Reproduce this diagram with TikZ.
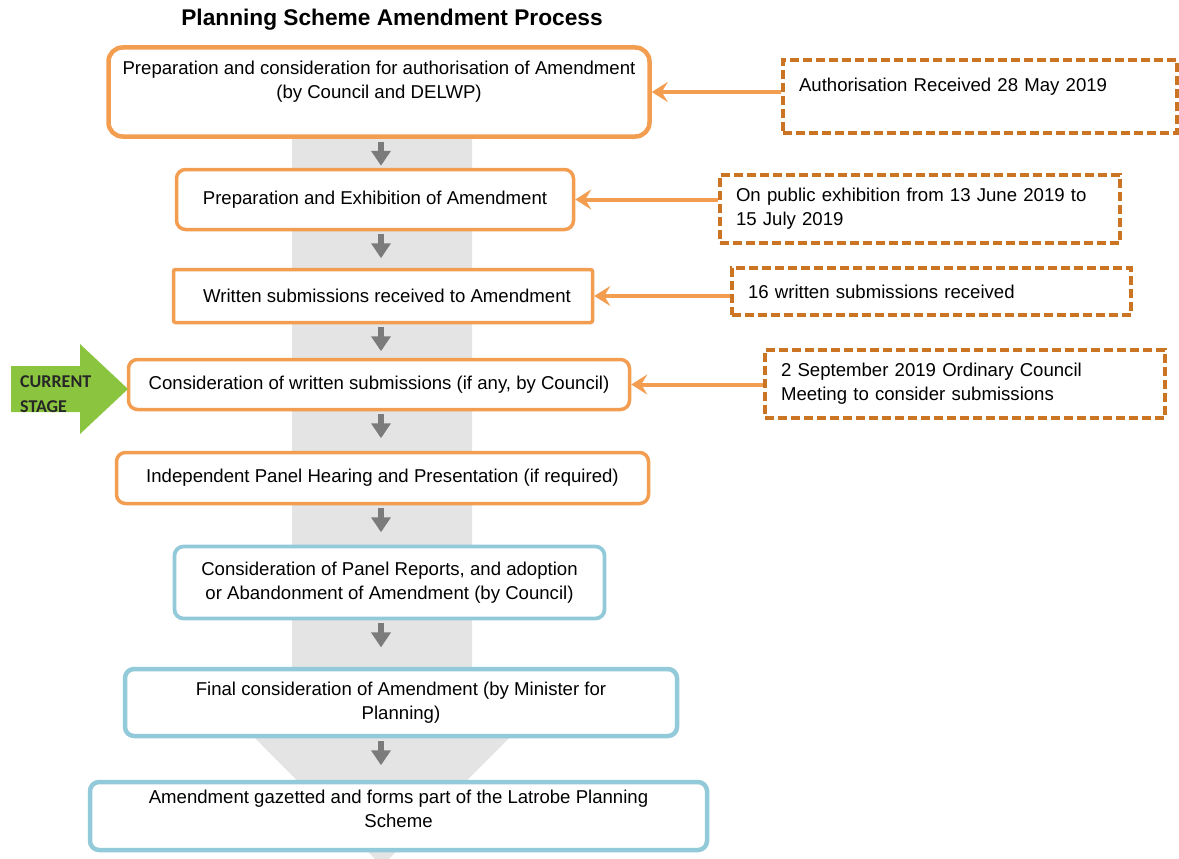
\documentclass[tikz,border=0pt]{standalone}
\usepackage{fontspec}
\setmainfont{Liberation Sans}
\newfontfamily\stagefont{Carlito}
\usetikzlibrary{arrows.meta}
\definecolor{stageorange}{HTML}{F29D50}
\definecolor{noteorange}{HTML}{CB7424}
\definecolor{stageblue}{HTML}{93CAD9}
\definecolor{spinegray}{HTML}{E4E4E4}
\definecolor{flowgray}{HTML}{7B7B7B}
\definecolor{nowgreen}{HTML}{8BC53F}
\tikzset{stage/.style = {shape = rectangle, draw = stageorange, fill = white, line width = 3.5pt, rounded corners = 9pt, align = center, font = \fontsize{18.6}{24}\selectfont}}
\tikzset{later/.style = {stage, draw = stageblue, line width = 4.5pt}}
\tikzset{note/.style = {shape = rectangle, draw = noteorange, fill = white, line width = 3.2pt, dash pattern = on 9pt off 4pt, align = left, inner xsep = 16pt, font = \fontsize{18.6}{24}\selectfont}}
\tikzset{feed/.style = {draw = stageorange, line width = 4pt, -{Stealth[length = 16pt, width = 20pt, inset = 6pt]}}}
\tikzset{flow/.style = {draw = flowgray, line width = 6pt, -{Triangle[length = 15pt, width = 19pt]}}}

\begin{document}
\begin{tikzpicture}[x = 1pt, y = -1pt]
			\useasboundingbox (0, 0) rectangle (1179, 859);
			\fill[spinegray] (292, 100) -- (472, 100) -- (472, 705) -- (542, 705) -- (382, 866) -- (222, 705) -- (292, 705) -- cycle;
			\coordinate (spine) at (381, 0);

			\node[font = \fontsize{22.7}{27}\selectfont\bfseries] (title) at (392, 20) {Planning Scheme Amendment Process};

			\node[stage, minimum width = 541, minimum height = 89, rounded corners = 14pt, line width = 4.5pt] (p1) at (379, 92) {Preparation and consideration for authorisation of Amendment\\(by Council and DELWP)\\[-6pt] \strut};
			\node[stage, minimum width = 397, minimum height = 60] (p2) at (375, 199.5) {Preparation and Exhibition of Amendment};
			\node[stage, minimum width = 419, minimum height = 53, rounded corners = 2pt] (p3) at (383, 296) {\hspace{8pt}Written submissions received to Amendment};
			\node[stage, minimum width = 501, minimum height = 50] (p4) at (379, 384.5) {Consideration of written submissions (if any, by Council)};
			\node[stage, minimum width = 532, minimum height = 51] (p5) at (382.5, 478) {Independent Panel Hearing and Presentation (if required)};
			\node[later, minimum width = 430, minimum height = 72, line width = 3.8pt] (p6) at (389.5, 582.5) {Consideration of Panel Reports, and adoption\\or Abandonment of Amendment (by Council)};
			\node[later, minimum width = 552, minimum height = 67] (p7) at (401, 702.5) {Final consideration of Amendment (by Minister for\\Planning)};
			\node[later, minimum width = 617, minimum height = 68] (p8) at (398.5, 816) {Amendment gazetted and forms part of the Latrobe Planning\\Scheme\\[-10pt]};

			\foreach \a in {p1, p2, p3, p4, p5, p6, p7}
				\draw[flow] ([yshift = -3pt]\a.south -| spine) -- ++(0, 24);

			\node[note, minimum width = 394, minimum height = 73, text width = 362] (nA) at (980, 96.5) {Authorisation Received 28 May 2019\\[-8pt] \strut};
			\node[note, minimum width = 400, minimum height = 68, text width = 368] (nB) at (920, 209) {On public exhibition from 13 June 2019 to\\15 July 2019};
			\node[note, minimum width = 399, minimum height = 47, text width = 367] (nC) at (931.5, 291.5) {16 written submissions received};
			\node[note, minimum width = 400, minimum height = 68, text width = 368] (nD) at (965, 384) {2 September 2019 Ordinary Council\\Meeting to consider submissions};

			\draw[feed] (p1.east -| nA.west) -- (p1.east);
			\draw[feed] (p2.east -| nB.west) -- (p2.east);
			\draw[feed] (p3.east -| nC.west) -- (p3.east);
			\draw[feed] (p4.east -| nD.west) -- (p4.east);

			\fill[nowgreen] (11, 366) -- (80, 366) -- (80, 344) -- (128, 389) -- (80, 434) -- (80, 412) -- (11, 412) -- cycle;
			\node[anchor = west, align = left, inner sep = 0pt, text = black!85, font = \stagefont\fontsize{18}{25}\selectfont\bfseries] (now) at (20, 394.5) {CURRENT\\STAGE};
		\end{tikzpicture}
\end{document}
